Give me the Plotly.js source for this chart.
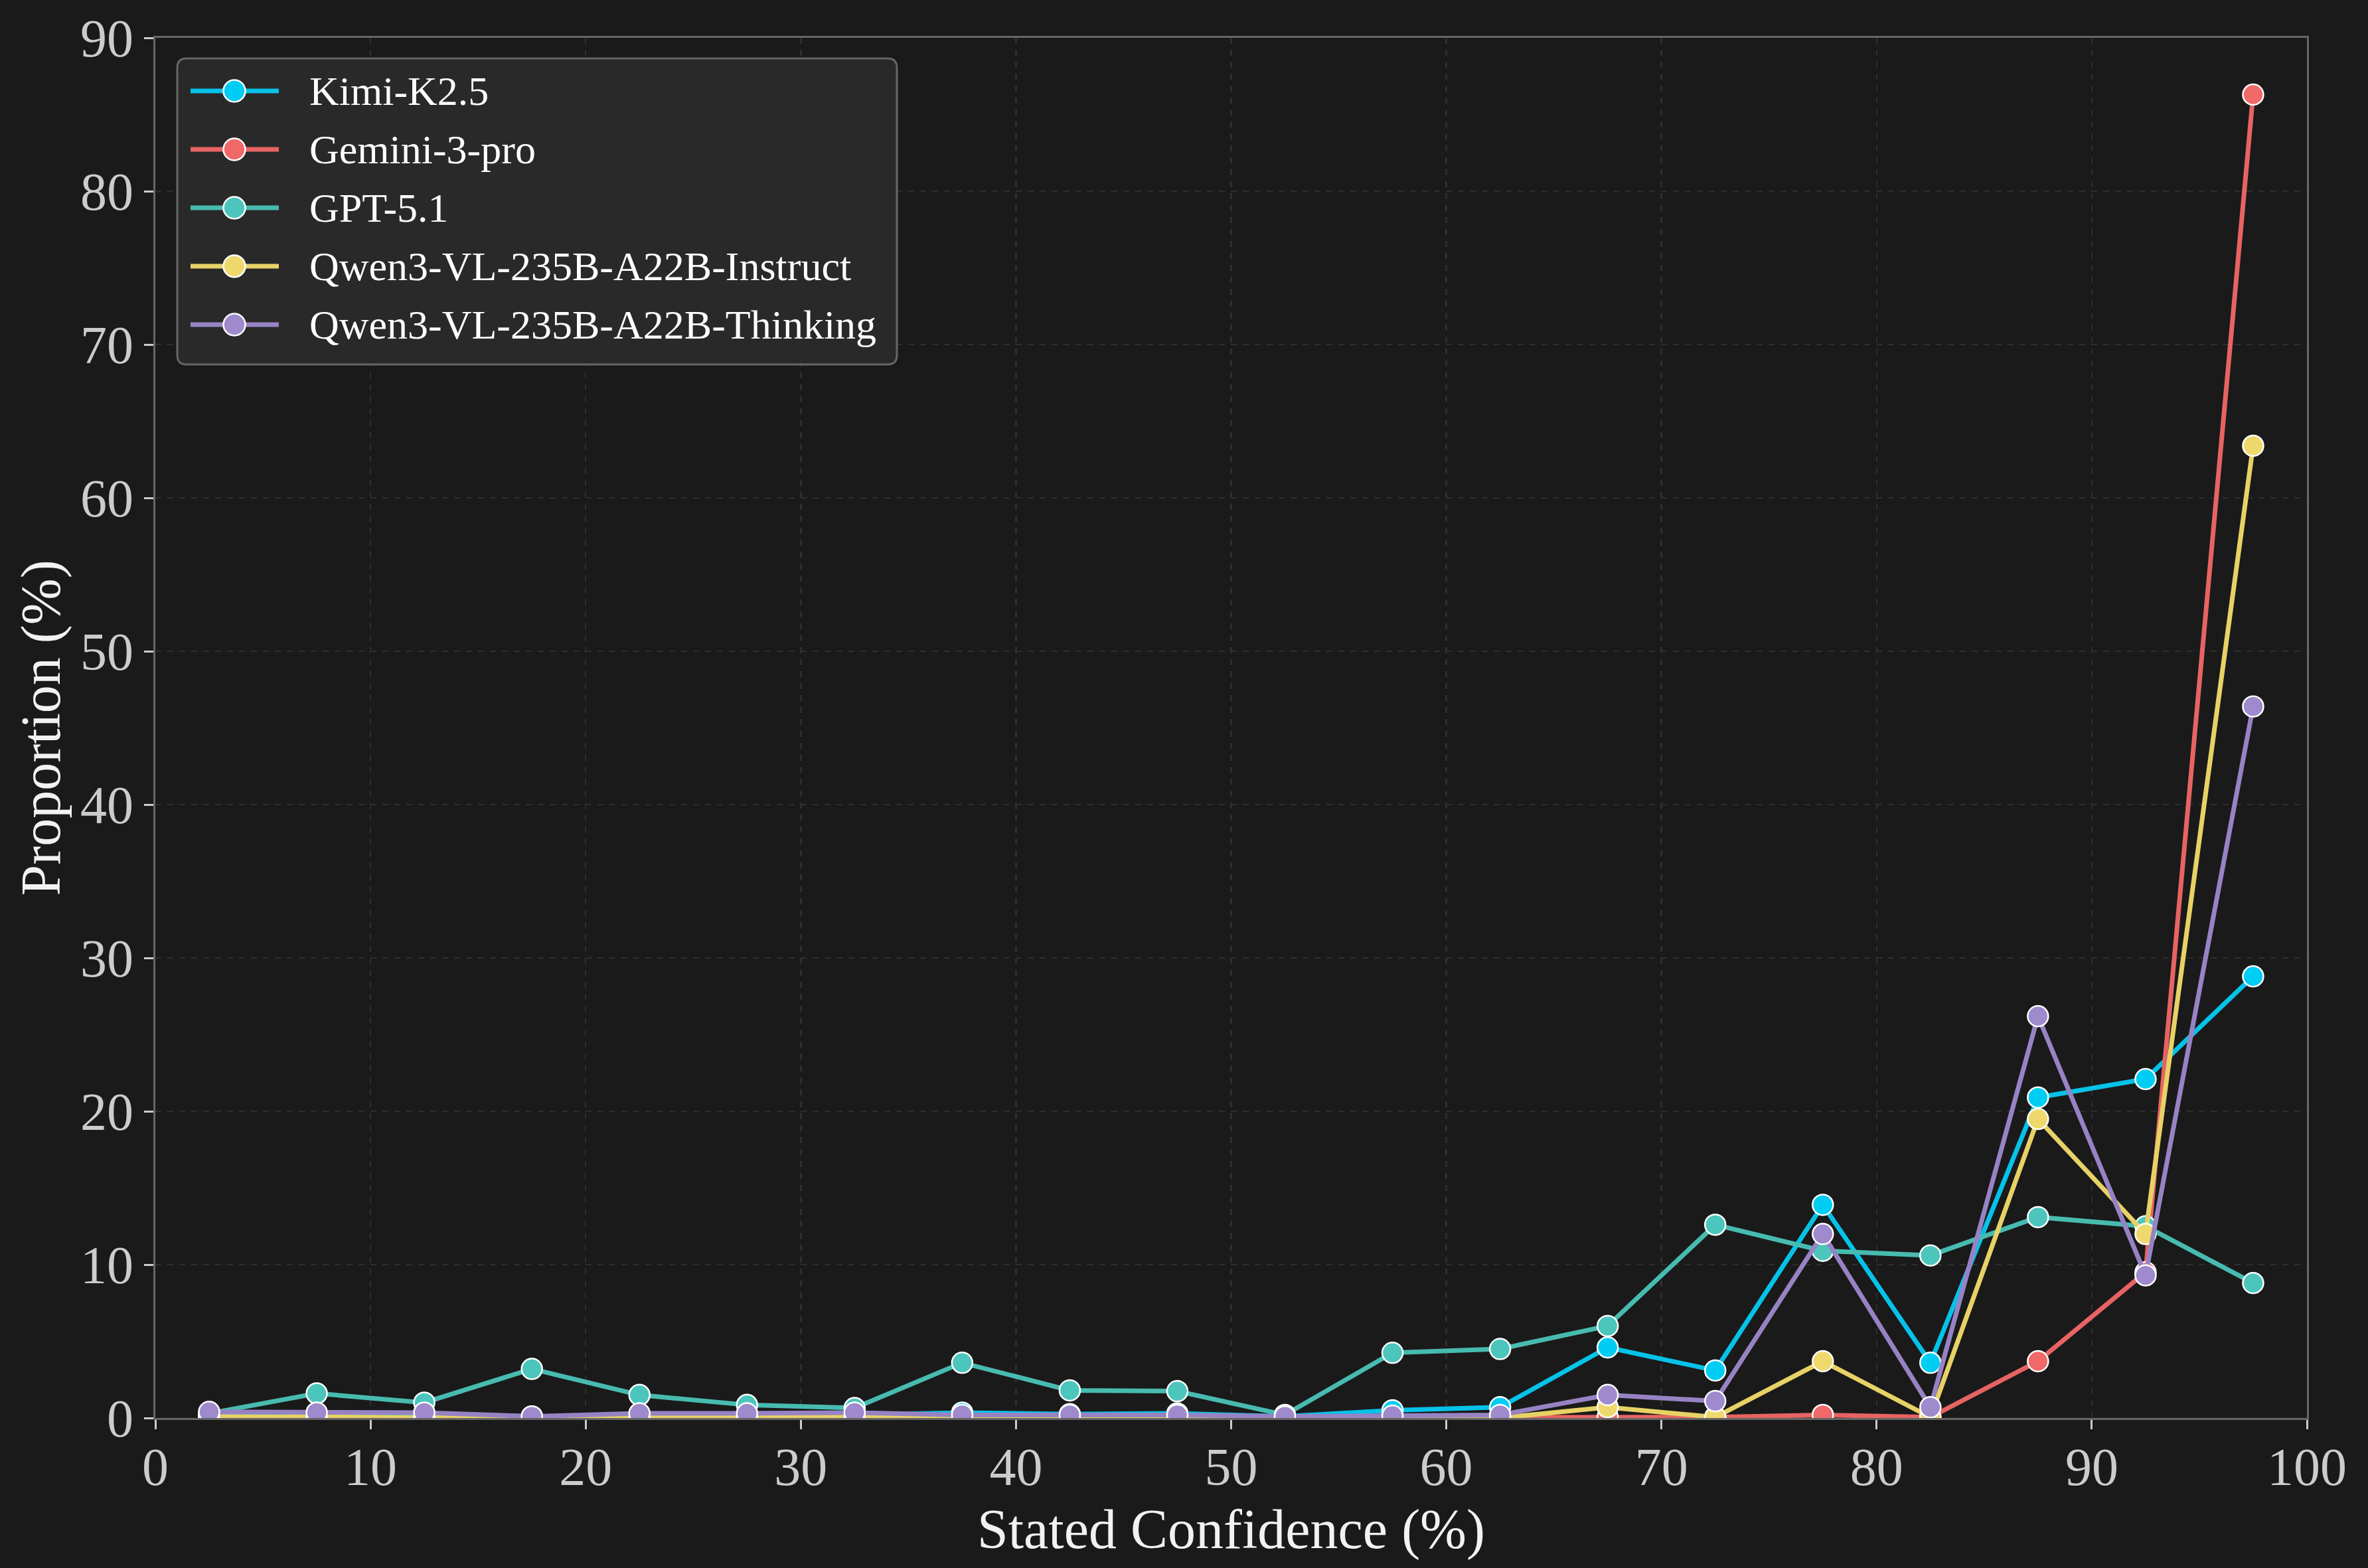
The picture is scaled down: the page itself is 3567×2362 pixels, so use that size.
<!DOCTYPE html>
<html>
<head>
<meta charset="utf-8">
<script src="https://cdn.plot.ly/plotly-3.0.1.min.js"></script>
<style>
  html, body { margin: 0; padding: 0; background: #1a1a1a; }
  #chart { width: 3567px; height: 2362px; }
</style>
</head>
<body>
<div id="chart"></div>
<script>
// Bin centres of stated confidence (%)
const binCenters = [2.5, 7.5, 12.5, 17.5, 22.5, 27.5, 32.5, 37.5, 42.5, 47.5,
                    52.5, 57.5, 62.5, 67.5, 72.5, 77.5, 82.5, 87.5, 92.5, 97.5];

// Proportion (%) per model
const kimi = [0.2, 0.3, 0.3, 0.1, 0.2, 0.2, 0.2, 0.35, 0.25, 0.3,
              0.1, 0.5, 0.7, 4.6, 3.1, 13.9, 3.6, 20.9, 22.1, 28.8];
const gemini = [0, 0, 0, 0, 0, 0, 0, 0, 0, 0,
                0, 0, 0, 0.05, 0.05, 0.2, 0.05, 3.7, 9.5, 86.3];
const gpt = [0.3, 1.6, 1.0, 3.2, 1.5, 0.85, 0.65, 3.6, 1.8, 1.75,
             0.2, 4.25, 4.5, 6.0, 12.6, 10.9, 10.6, 13.1, 12.5, 8.8];
const qwenInstruct = [0.1, 0.05, 0.05, 0, 0.05, 0.05, 0.15, 0, 0, 0,
                      0, 0, 0, 0.7, 0.05, 3.7, 0.05, 19.5, 12.0, 63.4];
const qwenThinking = [0.4, 0.35, 0.35, 0.1, 0.3, 0.3, 0.35, 0.2, 0.2, 0.2,
                      0.1, 0.15, 0.2, 1.5, 1.1, 12.0, 0.7, 26.2, 9.3, 46.4];

const modelNames = ["Kimi-K2.5", "Gemini-3-pro", "GPT-5.1",
                    "Qwen3-VL-235B-A22B-Instruct", "Qwen3-VL-235B-A22B-Thinking"];
const series = [kimi, gemini, gpt, qwenInstruct, qwenThinking];
const lineColors = ["#06c2e8", "#e86363", "#48bbb0", "#e8d266", "#9783c4"];
const markerColors = ["#00cdf3", "#f06868", "#4cc6bc", "#f0d96c", "#9e8acd"];

const xTitle = "Stated Confidence (%)";
const yTitle = "Proportion (%)";

const serif = "Liberation Serif, Times New Roman, serif";

// Figure size and margins (px)
const W = 3567, H = 2362;
const M = { l: 234, r: 92, t: 57, b: 226 };
const plotW = W - M.l - M.r;
const plotH = H - M.t - M.b;

// Convert pixel positions inside the figure to paper coordinates
function px(x) { return (x - M.l) / plotW; }
function py(y) { return (H - M.b - y) / plotH; }

// One line+marker trace per model
let data = [];
for (let i = 0; i < series.length; i++) {
    data.push({
        x: binCenters,
        y: series[i],
        name: modelNames[i],
        type: "scatter",
        mode: "lines+markers",
        line: { color: lineColors[i], width: 7 },
        marker: {
            color: markerColors[i],
            size: 31,
            line: { color: "#ffffff", width: 2.5 }
        }
    });
}

// Hand-built legend (Plotly caps legend marker size, the reference uses large ones)
const box = { x0: 267, x1: 1351, y0: 88, y1: 549, r: 14 };
const rx = box.r / plotW, ry = box.r / plotH;
const bx0 = px(box.x0), bx1 = px(box.x1), by0 = py(box.y1), by1 = py(box.y0);
let shapes = [{
    type: "path",
    xref: "paper", yref: "paper",
    layer: "above",
    path: "M" + (bx0 + rx) + "," + by1 +
          " L" + (bx1 - rx) + "," + by1 +
          " Q" + bx1 + "," + by1 + " " + bx1 + "," + (by1 - ry) +
          " L" + bx1 + "," + (by0 + ry) +
          " Q" + bx1 + "," + by0 + " " + (bx1 - rx) + "," + by0 +
          " L" + (bx0 + rx) + "," + by0 +
          " Q" + bx0 + "," + by0 + " " + bx0 + "," + (by0 + ry) +
          " L" + bx0 + "," + (by1 - ry) +
          " Q" + bx0 + "," + by1 + " " + (bx0 + rx) + "," + by1 + " Z",
    fillcolor: "rgba(42,42,42,0.95)",
    line: { color: "#666666", width: 3 }
}];
let annotations = [];
const rowY0 = 137, rowGap = 88, markR = 16.5;
for (let i = 0; i < modelNames.length; i++) {
    const yc = rowY0 + i * rowGap;
    shapes.push({
        type: "line", xref: "paper", yref: "paper", layer: "above",
        x0: px(287), x1: px(420), y0: py(yc), y1: py(yc),
        line: { color: lineColors[i], width: 7 }
    });
    shapes.push({
        type: "circle", xref: "paper", yref: "paper", layer: "above",
        x0: px(353 - markR), x1: px(353 + markR),
        y0: py(yc + markR), y1: py(yc - markR),
        fillcolor: markerColors[i],
        line: { color: "#ffffff", width: 2.5 }
    });
    annotations.push({
        xref: "paper", yref: "paper",
        x: px(464), y: py(yc),
        xanchor: "left", yanchor: "middle",
        text: modelNames[i],
        showarrow: false,
        font: { family: serif, size: 62, color: "#ffffff" }
    });
}

// Axis titles placed as annotations to sit where the reference has them
annotations.push({
    xref: "paper", yref: "paper",
    x: 0.5, y: py(2304),
    xanchor: "center", yanchor: "middle",
    text: xTitle, showarrow: false,
    font: { family: serif, size: 84, color: "#f2f2f2" }
});
annotations.push({
    xref: "paper", yref: "paper",
    x: px(61), y: 0.5,
    xanchor: "center", yanchor: "middle",
    textangle: -90,
    text: yTitle, showarrow: false,
    font: { family: serif, size: 84, color: "#f2f2f2" }
});

const axisCommon = {
    showline: true,
    linecolor: "#666666",
    linewidth: 3,
    mirror: true,
    ticks: "outside",
    ticklen: 14,
    tickwidth: 3,
    tickcolor: "#cccccc",
    tickfont: { family: serif, size: 80, color: "#cccccc" },
    showgrid: true,
    gridcolor: "#2e2e2e",
    gridwidth: 2.5,
    griddash: "dash",
    zeroline: false
};

let layout = {
    width: W,
    height: H,
    paper_bgcolor: "#1a1a1a",
    plot_bgcolor: "#1a1a1a",
    margin: M,
    font: { family: serif, color: "#f0f0f0" },
    xaxis: Object.assign({}, axisCommon, {
        range: [0, 100],
        dtick: 10,
        tick0: 0,
        ticklabelstandoff: -12
    }),
    yaxis: Object.assign({}, axisCommon, {
        range: [0, 90],
        dtick: 10,
        tick0: 0
    }),
    showlegend: false,
    shapes: shapes,
    annotations: annotations
};

Plotly.newPlot("chart", data, layout, { displayModeBar: false, staticPlot: true });
</script>
</body>
</html>
